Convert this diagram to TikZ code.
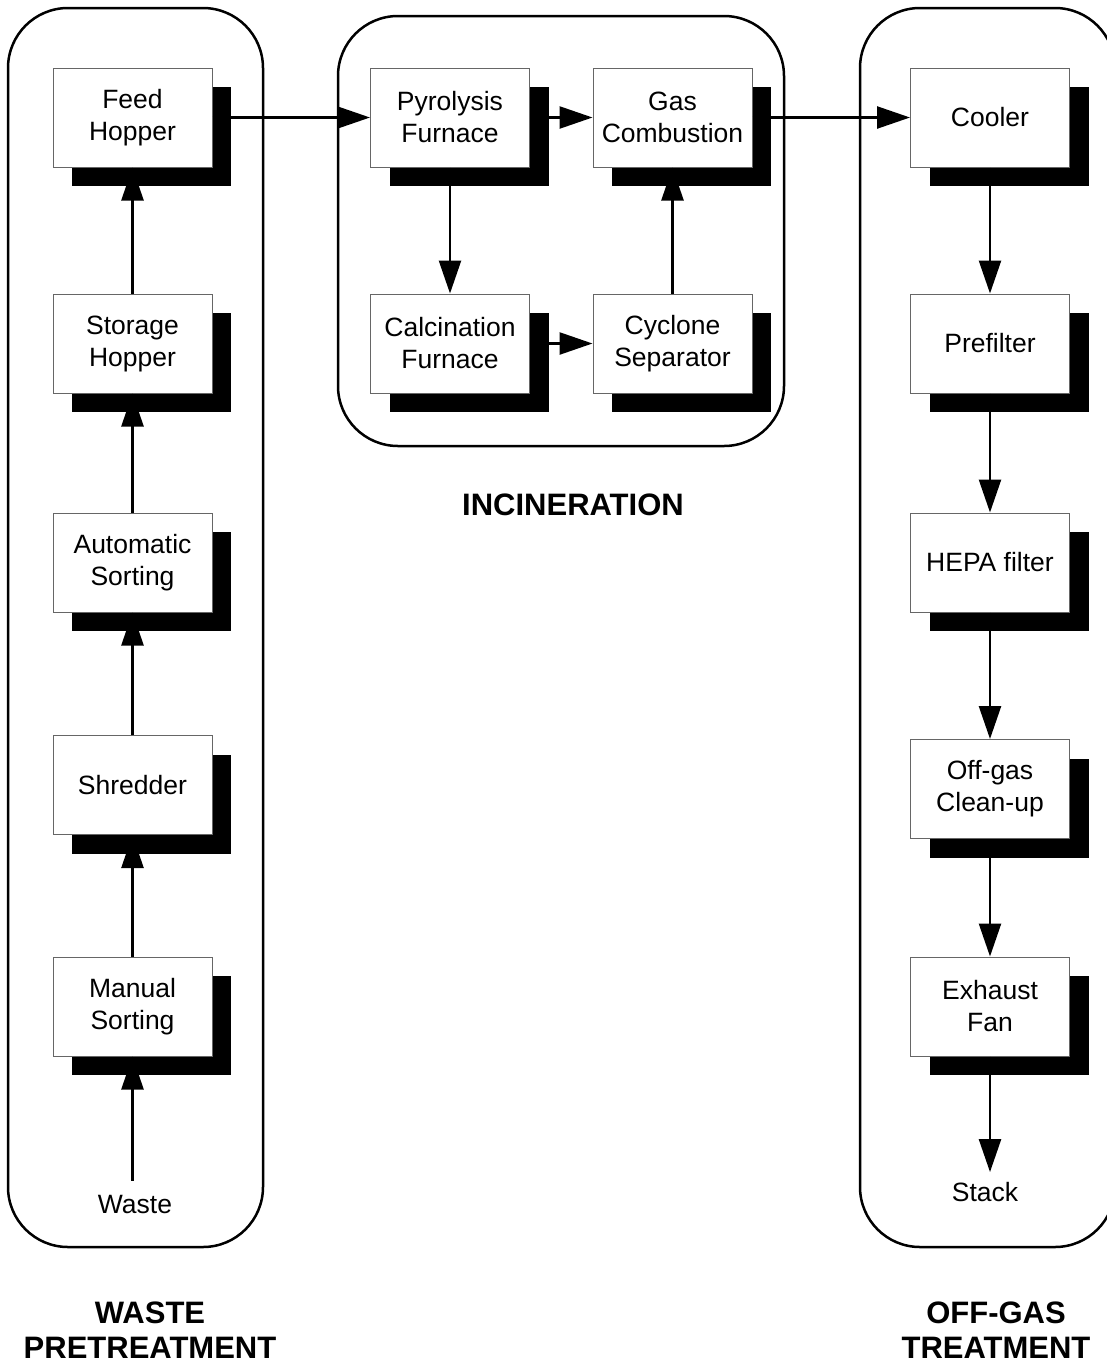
\documentclass[tikz,border=0pt]{standalone}
\usepackage{fontspec}
\setmainfont{Liberation Sans}
\usetikzlibrary{arrows.meta,shadows}
\begin{document}
\begin{tikzpicture}[x=1pt,y=-1pt,
  unit/.style={rectangle, draw=black!60, line width=1pt, fill=white,
    minimum width=159pt, minimum height=99pt, inner sep=0pt, align=center,
    font=\fontsize{26.5}{32}\selectfont,
    drop shadow={shadow xshift=19pt, shadow yshift=-19pt, opacity=1, fill=black}},
  group/.style={draw=black, line width=2.5pt, rounded corners=60pt},
  flow/.style={line width=2.5pt, -{Triangle[length=33pt,width=22pt]}},
  plain/.style={font=\fontsize{26.5}{32}\selectfont, inner xsep=2pt},
  title/.style={font=\bfseries\fontsize{31}{35}\selectfont, align=center}]
\useasboundingbox (0,0) rectangle (1107,1366);
\clip (0,0) rectangle (1107,1366);
% group frames
\draw[group] (8,8) rectangle (263,1247);
\draw[group] (338,16) rectangle (784,446);
\draw[group] (860,8) rectangle (1115,1247);
% left column
\node[unit] (feed)    at (132.5,117.5)  {Feed\\Hopper};
\node[unit] (storage) at (132.5,343.5)  {Storage\\Hopper};
\node[unit] (auto)    at (132.5,562.5)  {Automatic\\Sorting};
\node[unit] (shred)   at (132.5,785)    {Shredder};
\node[unit] (manual)  at (132.5,1006.5) {Manual\\Sorting};
\node[plain, inner ysep=14pt] (waste) at (135,1204) {Waste};
% middle
\node[unit] (pyro) at (450,117.5)   {Pyrolysis\\Furnace};
\node[unit] (gas)  at (672.5,117.5) {Gas\\Combustion};
\node[unit] (calc) at (450,343.5)   {Calcination\\Furnace};
\node[unit] (cyc)  at (672.5,343.5) {Cyclone\\Separator};
% right column
\node[unit] (cooler)  at (990,117.5)  {Cooler};
\node[unit] (pre)     at (990,343.5)  {Prefilter};
\node[unit] (hepa)    at (990,562.5)  {HEPA filter};
\node[unit] (offgas)  at (990,789)    {Off-gas\\Clean-up};
\node[unit] (exhaust) at (990,1006.5) {Exhaust\\Fan};
\node[plain, inner ysep=10pt] (stack) at (985,1192) {Stack};
% titles
\node[title] (t1) at (150,1330) {WASTE\\PRETREATMENT};
\node[title] (t2) at (573,505) {INCINERATION};
\node[title] (t3) at (996,1330) {OFF-GAS\\TREATMENT};
% connectors
\draw[flow] (waste.north -| manual.south) -- (manual.south);
\draw[flow] (manual.north) -- (shred.south);
\draw[flow] (shred.north) -- (auto.south);
\draw[flow] (auto.north) -- (storage.south);
\draw[flow] (storage.north) -- (feed.south);
\draw[flow] (feed.east) -- (pyro.west);
\draw[flow] (pyro.east) -- (gas.west);
\draw[flow] (pyro.south) -- (calc.north);
\draw[flow] (calc.east) -- (cyc.west);
\draw[flow] (cyc.north) -- (gas.south);
\draw[flow] (gas.east) -- (cooler.west);
\draw[flow] (cooler.south) -- (pre.north);
\draw[flow] (pre.south) -- (hepa.north);
\draw[flow] (hepa.south) -- (offgas.north);
\draw[flow] (offgas.south) -- (exhaust.north);
\draw[flow] (exhaust.south) -- (exhaust.south |- stack.north);
\end{tikzpicture}
\end{document}
